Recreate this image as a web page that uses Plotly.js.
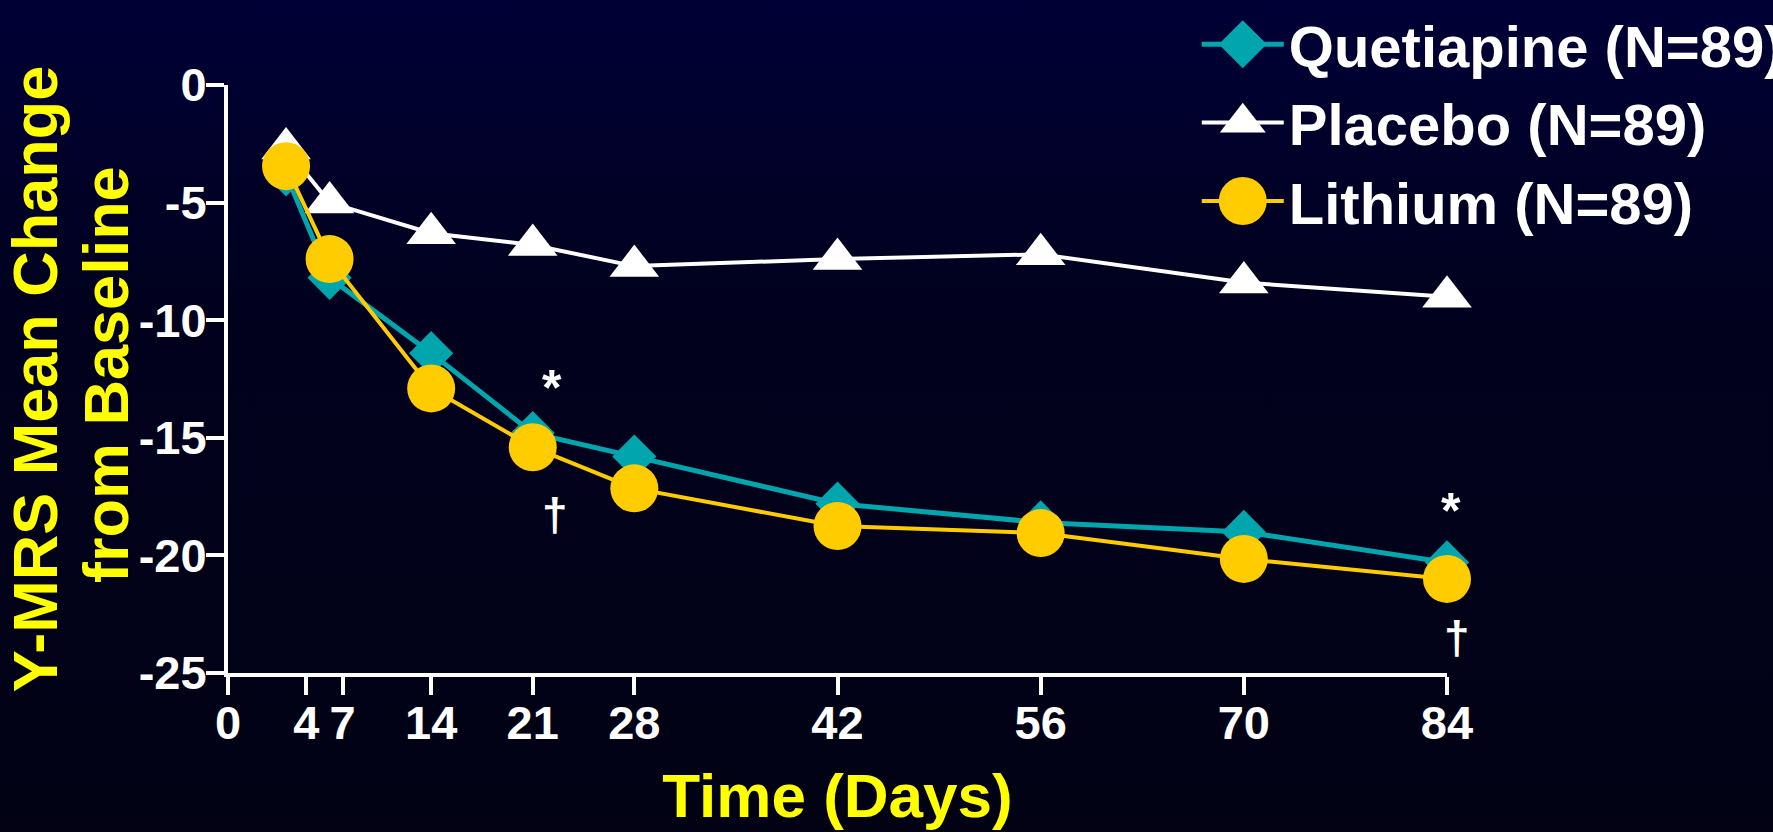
<!DOCTYPE html>
<html><head><meta charset="utf-8">
<script src="https://cdn.plot.ly/plotly-3.0.1.min.js"></script>
<style>
html,body{margin:0;padding:0;width:1773px;height:832px;overflow:hidden;
background:linear-gradient(180deg,#000036 0%,#01011f 35%,#020214 100%);}
#chart{width:1773px;height:832px;}
</style></head><body><div id="chart"></div>
<script>
// ---- data ----
const days = [4, 7, 14, 21, 28, 42, 56, 70, 84];
const quetiapine = [-3.8, -8.2, -11.4, -14.8, -15.8, -17.8, -18.6, -19.0, -20.3];
const placebo = [-2.7, -5.0, -6.3, -6.8, -7.7, -7.4, -7.2, -8.4, -9.0];
const lithium = [-3.45, -7.4, -12.9, -15.4, -17.15, -18.75, -19.05, -20.15, -21.0];
const seriesNames = ['Quetiapine (N=89)', 'Placebo (N=89)', 'Lithium (N=89)'];
const xTickVals = [0, 5.4, 7.9, 14, 21, 28, 42, 56, 70, 84];
const xTickText = ['0', '4', '7', '14', '21', '28', '42', '56', '70', '84'];
const yTickVals = [0, -5, -10, -15, -20, -25];
const yTickText = ['0', '-5', '-10', '-15', '-20', '-25'];
const yTitleLines = ['Y-MRS Mean Change', 'from Baseline'];
const sigX = [22.3, 22.5, 84, 84];
const sigY = [-12.9, -18.3, -18.1, -23.5];
const sigText = ['*', '\u2020', '*', '\u2020'];

// ---- styles ----
const FONT = 'Liberation Sans, Arial, Helvetica, sans-serif';
const TEAL = '#00A5AE', GOLD = '#FFCC00', WHITE = '#FFFFFF', YEL = '#FFFF00';

const traces = [
  {x: days, y: placebo, name: seriesNames[1], legendrank: 2, mode: 'lines+markers',
   line: {color: WHITE, width: 4}, marker: {symbol: 'triangle-up', size: 43, color: WHITE}, cliponaxis: false},
  {x: days, y: quetiapine, name: seriesNames[0], legendrank: 1, mode: 'lines+markers',
   line: {color: TEAL, width: 5}, marker: {symbol: 'diamond', size: 34, color: TEAL}, cliponaxis: false},
  {x: days, y: lithium, name: seriesNames[2], legendrank: 3, mode: 'lines+markers',
   line: {color: GOLD, width: 4}, marker: {symbol: 'circle', size: 48, color: GOLD}, cliponaxis: false}
];

const sigShift = [0, 0, 4, 10];
const annotations = sigText.map((t, i) => ({
  x: sigX[i], y: sigY[i], xref: 'x', yref: 'y', text: t, showarrow: false, xshift: sigShift[i],
  font: {family: FONT, size: t === '*' ? 50 : 46, color: WHITE, weight: 'bold'}
}));
// second line of the y-axis title
annotations.push({
  xref: 'paper', yref: 'paper', x: -0.1, y: 0.507, xanchor: 'center', yanchor: 'middle',
  text: yTitleLines[1], textangle: -90, showarrow: false,
  font: {family: FONT, size: 63, color: YEL, weight: 'bold'}
});

const layout = {
  width: 1773, height: 832,
  paper_bgcolor: 'rgba(0,0,0,0)', plot_bgcolor: 'rgba(0,0,0,0)',
  margin: {l: 228, r: 326, t: 85, b: 159, autoexpand: false},
  font: {family: FONT, color: WHITE},
  showlegend: true,
  legend: {xref: 'container', yref: 'container', x: 0.675, y: 1.015, xanchor: 'left', yanchor: 'top',
    bgcolor: 'rgba(0,0,0,0)', borderwidth: 0, itemwidth: 82,
    font: {family: FONT, size: 58, color: WHITE, weight: 'bold'}},
  xaxis: {range: [0, 84], showgrid: false, zeroline: false, showline: true, linecolor: WHITE, linewidth: 4,
    ticks: 'outside', ticklen: 18, tickwidth: 4, tickcolor: WHITE, ticklabelstandoff: -12,
    tickmode: 'array', tickvals: xTickVals, ticktext: xTickText,
    tickfont: {family: FONT, size: 47, color: WHITE, weight: 'bold'},
    title: {text: 'Time (Days)', font: {family: FONT, size: 62, color: YEL, weight: 'bold'}, standoff: 26}},
  yaxis: {range: [-25, 0], showgrid: false, zeroline: false, showline: true, linecolor: WHITE, linewidth: 4,
    ticks: 'outside', ticklen: 18, tickwidth: 4, tickcolor: WHITE, ticklabelstandoff: -10,
    tickmode: 'array', tickvals: yTickVals, ticktext: yTickText,
    tickfont: {family: FONT, size: 47, color: WHITE, weight: 'bold'},
    title: {text: yTitleLines[0], font: {family: FONT, size: 63, color: YEL, weight: 'bold'}, standoff: 80}},
  annotations: annotations
};

const legendTargets = {'diamond': 48, 'triangle-up': 46, 'circle': 48};
function bigLegendSymbols(gd) {
  const items = gd.querySelectorAll('.legend .traces');
  items.forEach(item => {
    const txt = item.querySelector('text.legendtext');
    const name = txt ? txt.textContent : '';
    const tr = traces.find(t => t.name === name);
    if (!tr) return;
    const target = legendTargets[tr.marker.symbol];
    item.querySelectorAll('.legendpoints path.scatterpts').forEach(p => {
      if (p.dataset.scaled) return;
      const bb = p.getBBox();
      if (!bb.width) return;
      const k = target / bb.width;
      const base = p.getAttribute('transform') || '';
      p.setAttribute('transform', base + ' scale(' + k + ')');
      p.dataset.scaled = '1';
    });
  });
}

Plotly.newPlot('chart', traces, layout, {displayModeBar: false, staticPlot: true}).then(gd => {
  bigLegendSymbols(gd);
  gd.on('plotly_afterplot', () => bigLegendSymbols(gd));
});
</script>
</body></html>
